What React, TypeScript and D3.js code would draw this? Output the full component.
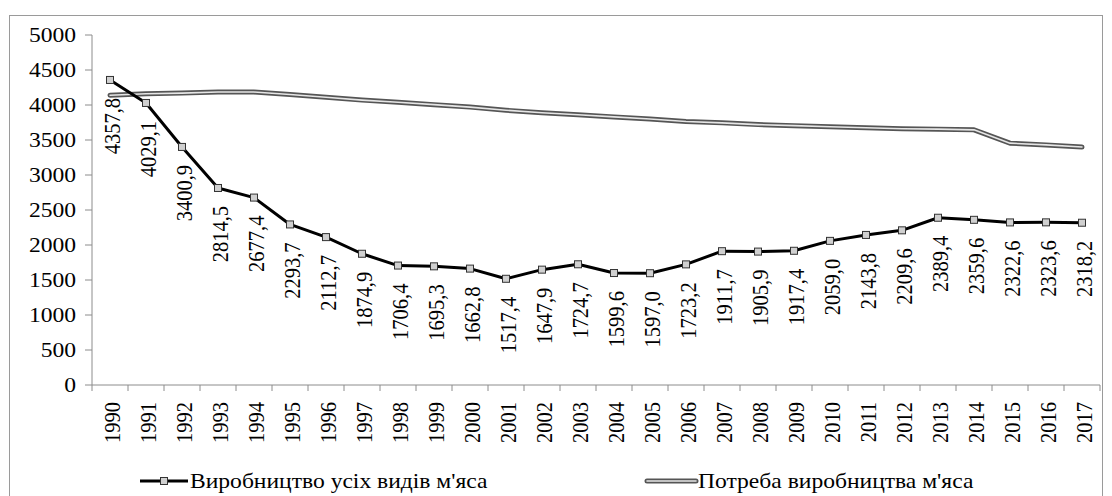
import { useMemo } from "react";
import * as d3 from "d3";

const YEARS = [
  "1990", "1991", "1992", "1993", "1994", "1995", "1996", "1997", "1998", "1999",
  "2000", "2001", "2002", "2003", "2004", "2005", "2006", "2007", "2008", "2009",
  "2010", "2011", "2012", "2013", "2014", "2015", "2016", "2017",
];

// Виробництво усіх видів м'яса
const PRODUCTION = [
  4357.8, 4029.1, 3400.9, 2814.5, 2677.4, 2293.7, 2112.7, 1874.9, 1706.4, 1695.3,
  1662.8, 1517.4, 1647.9, 1724.7, 1599.6, 1597.0, 1723.2, 1911.7, 1905.9, 1917.4,
  2059.0, 2143.8, 2209.6, 2389.4, 2359.6, 2322.6, 2323.6, 2318.2,
];

// Потреба виробництва м'яса
const DEMAND = [
  4140, 4160, 4170, 4185, 4185, 4150, 4110, 4070, 4040, 4005,
  3970, 3925, 3890, 3860, 3830, 3800, 3765, 3745, 3720, 3705,
  3690, 3675, 3660, 3655, 3645, 3455, 3430, 3400,
];

const Y_TICKS = [0, 500, 1000, 1500, 2000, 2500, 3000, 3500, 4000, 4500, 5000];

const SERIES_NAMES = ["Виробництво усіх видів м'яса", "Потреба виробництва м'яса"];

const WIDTH = 1112;
const HEIGHT = 496;
const PLOT = { left: 92, right: 1100, top: 35, bottom: 385 };
// the source picture is a bit wider than tall, so the glyphs get stretched sideways
const SX = 1.15;
const FS = 20.5;
const TXT = { fontFamily: "Liberation Serif" };

const fmt = (v: number) => v.toFixed(1).replace(".", ",");

export default function App() {
  const xScale = useMemo(
    () => d3.scaleBand<string>().domain(YEARS).range([PLOT.left, PLOT.right]),
    []
  );
  const yScale = useMemo(
    () => d3.scaleLinear().domain([0, 5000]).range([PLOT.bottom, PLOT.top]),
    []
  );
  const cx = (i: number) => (xScale(YEARS[i]) ?? 0) + xScale.bandwidth() / 2;

  const line = d3
    .line<number>()
    .x((_, i) => cx(i))
    .y((d) => yScale(d));

  const prodPath = line(PRODUCTION) ?? "";
  const demandPath = line(DEMAND) ?? "";

  // tick positions on the category axis sit between bands
  const xTicks = d3.range(YEARS.length + 1).map((i) => PLOT.left + i * xScale.step());

  return (
    <div style={{ position: "absolute", left: 0, top: 0 }}>
      <svg width={WIDTH} height={HEIGHT} style={{ display: "block" }}>
        <rect x={0} y={0} width={WIDTH} height={HEIGHT} fill="#fff" />
        {/* outer chart frame */}
        <rect x={9.5} y={15.5} width={1093} height={500} fill="none" stroke="#9a9a9a" strokeWidth={1} />

        {/* y axis */}
        <line x1={PLOT.left} x2={PLOT.left} y1={PLOT.top} y2={PLOT.bottom} stroke="#8c8c8c" />
        {Y_TICKS.map((t) => (
          <g key={t} transform={`translate(0,${yScale(t)})`}>
            <line x1={PLOT.left - 7} x2={PLOT.left} stroke="#8c8c8c" />
            <text
              transform={`translate(76,0) scale(${SX},1)`}
              dy="0.35em"
              textAnchor="end"
              fontSize={FS}
              style={TXT}
              fill="#000"
            >
              {t}
            </text>
          </g>
        ))}

        {/* x axis */}
        <line x1={PLOT.left} x2={PLOT.right} y1={PLOT.bottom} y2={PLOT.bottom} stroke="#8c8c8c" />
        {xTicks.map((x, i) => (
          <line key={i} x1={x} x2={x} y1={PLOT.bottom} y2={PLOT.bottom + 6} stroke="#8c8c8c" />
        ))}
        {YEARS.map((yr, i) => (
          <text
            key={yr}
            transform={`translate(${cx(i) + 2},${PLOT.bottom + 17}) scale(${SX},1) rotate(-90)`}
            dy="0.35em"
            textAnchor="end"
            fontSize={FS}
            style={TXT}
            fill="#000"
          >
            {yr}
          </text>
        ))}

        {/* demand: double line */}
        <path d={demandPath} fill="none" stroke="#555" strokeWidth={5} strokeLinejoin="round" strokeLinecap="round" />
        <path d={demandPath} fill="none" stroke="#e6e6e6" strokeWidth={1.6} strokeLinejoin="round" strokeLinecap="round" />

        {/* production line with square markers */}
        <path d={prodPath} fill="none" stroke="#000" strokeWidth={3} strokeLinejoin="round" />
        {PRODUCTION.map((v, i) => (
          <rect
            key={i}
            x={cx(i) - 3.5}
            y={yScale(v) - 3.5}
            width={7}
            height={7}
            fill="#d0d0d0"
            stroke="#333"
            strokeWidth={1}
          />
        ))}

        {/* data labels */}
        {PRODUCTION.map((v, i) => (
          <text
            key={i}
            transform={`translate(${cx(i) + 2},${yScale(v) + 18}) scale(${SX},1) rotate(-90)`}
            dy="0.35em"
            textAnchor="end"
            fontSize={FS}
            style={TXT}
            fill="#000"
          >
            {fmt(v)}
          </text>
        ))}

        {/* legend */}
        <g transform="translate(0,481)">
          <line x1={140} x2={188} stroke="#000" strokeWidth={3} />
          <rect x={160.5} y={-3.5} width={7} height={7} fill="#d0d0d0" stroke="#333" />
          <text transform={`translate(190,7) scale(${SX},1)`} fontSize={FS} style={TXT} fill="#000">
            {SERIES_NAMES[0]}
          </text>
          <line x1={647} x2={696} stroke="#555" strokeWidth={5} strokeLinecap="round" />
          <line x1={647} x2={696} stroke="#e6e6e6" strokeWidth={1.6} strokeLinecap="round" />
          <text transform={`translate(698,7) scale(${SX},1)`} fontSize={FS} style={TXT} fill="#000">
            {SERIES_NAMES[1]}
          </text>
        </g>
      </svg>
    </div>
  );
}
